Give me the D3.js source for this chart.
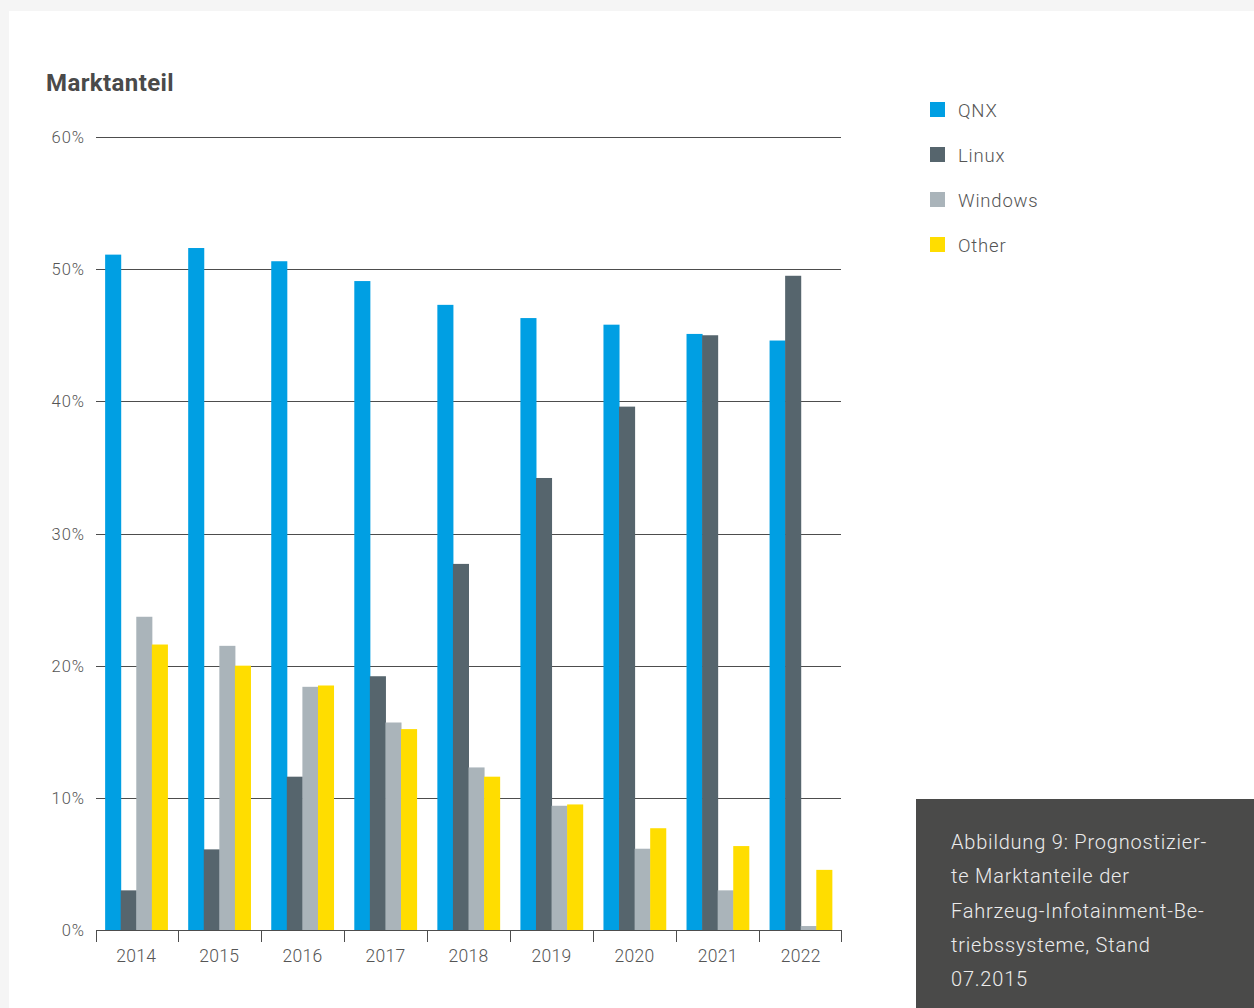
<!DOCTYPE html>
<html><head><meta charset="utf-8">
<script src="https://cdn.jsdelivr.net/npm/d3@7"></script>
<style>
html,body{margin:0;padding:0;background:#f5f5f5;}
svg{display:block;}
</style></head>
<body>
<svg id="chart" width="1254" height="1008"></svg>
<script>
const years = ["2014","2015","2016","2017","2018","2019","2020","2021","2022"];
const seriesNames = ["QNX","Linux","Windows","Other"];
const qnx     = [51.1, 51.6, 50.6, 49.1, 47.3, 46.3, 45.8, 45.1, 44.6];
const linux   = [3.0, 6.1, 11.6, 19.2, 27.7, 34.2, 39.6, 45.0, 49.5];
const windows = [23.7, 21.5, 18.4, 15.7, 12.3, 9.4, 6.15, 3.0, 0.3];
const other   = [21.6, 20.0, 18.5, 15.2, 11.6, 9.5, 7.7, 6.35, 4.55];
const yTicks  = [0, 10, 20, 30, 40, 50, 60];
const colors  = ["#009fe3", "#56656d", "#aab4ba", "#ffdd00"];
const titleText = "Marktanteil";
const captionLines = ["Abbildung 9: Prognostizier-", "te Marktanteile der", "Fahrzeug-Infotainment-Be-", "triebssysteme, Stand", "07.2015"];

(function () {
const seriesValues = [qnx, linux, windows, other];
const svg = d3.select("#chart");
const FONT = "Roboto, 'Liberation Sans', sans-serif";

// panel
svg.append("rect").attr("x", 9).attr("y", 11).attr("width", 1254 - 9).attr("height", 1008 - 11).attr("fill", "#ffffff");

const pLeft = 96, pRight = 841, pTop = 137, pBottom = 930;
const x = d3.scaleBand().domain(years).range([pLeft, pRight]).paddingInner(0.25).paddingOuter(0.11);
const xs = d3.scaleBand().domain(seriesNames).range([0, x.bandwidth()]).padding(0);
const y = d3.scaleLinear().domain([0, 60]).range([pBottom, pTop]);

// title
svg.append("text").attr("x", 46).attr("y", 91).text(titleText)
  .attr("font-family", FONT).attr("font-weight", 700).attr("font-size", 24)
  .attr("letter-spacing", 0.4).attr("fill", "#4a4a4a");

// gridlines
svg.append("g").selectAll("line").data(yTicks.filter(d => d > 0)).join("line")
  .attr("x1", pLeft).attr("x2", pRight)
  .attr("y1", d => Math.round(y(d)) + 0.5).attr("y2", d => Math.round(y(d)) + 0.5)
  .attr("stroke", "#4d4d4d").attr("stroke-width", 1);

// y labels
svg.append("g").selectAll("text").data(yTicks).join("text")
  .attr("x", 85).attr("y", d => y(d) + 6)
  .attr("text-anchor", "end").text(d => d + "%")
  .attr("font-family", FONT).attr("font-weight", 300).attr("font-size", 16.5)
  .attr("letter-spacing", 1).attr("fill", "#555");

// bars
const groups = svg.append("g").selectAll("g").data(years).join("g")
  .attr("transform", d => `translate(${x(d)},0)`);
groups.selectAll("rect").data((yr, i) => seriesNames.map((s, j) => ({s, j, v: seriesValues[j][i]})))
  .join("rect")
  .attr("x", d => xs(d.s)).attr("width", xs.bandwidth() + 0.5)
  .attr("y", d => y(d.v)).attr("height", d => y(0) - y(d.v))
  .attr("fill", d => colors[d.j]);

// x axis baseline and ticks
const axisG = svg.append("g");
axisG.append("line").attr("x1", pLeft).attr("x2", pRight).attr("y1", pBottom + 0.5).attr("y2", pBottom + 0.5)
  .attr("stroke", "#4d4d4d");
const boundaries = years.map((d, i) => i === 0 ? pLeft : (x(years[i - 1]) + x.bandwidth() + x(d)) / 2).concat([pRight]);
axisG.selectAll("line.tick").data(boundaries).join("line").attr("class", "tick")
  .attr("x1", d => Math.round(d) + 0.5).attr("x2", d => Math.round(d) + 0.5)
  .attr("y1", pBottom).attr("y2", pBottom + 12).attr("stroke", "#4d4d4d");
axisG.selectAll("text").data(years).join("text")
  .attr("x", d => x(d) + x.bandwidth() / 2).attr("y", 962)
  .attr("text-anchor", "middle").text(d => d)
  .attr("font-family", FONT).attr("font-weight", 300).attr("font-size", 17.5)
  .attr("letter-spacing", 0.3).attr("fill", "#555");

// legend
const legend = svg.append("g").selectAll("g").data(seriesNames).join("g")
  .attr("transform", (d, i) => `translate(930,${102 + i * 45})`);
legend.append("rect").attr("width", 15).attr("height", 15).attr("fill", (d, i) => colors[i]);
legend.append("text").attr("x", 28).attr("y", 14.5).text(d => d)
  .attr("font-family", FONT).attr("font-weight", 300).attr("font-size", 18.5)
  .attr("letter-spacing", 0.8).attr("fill", "#555");

// caption box
svg.append("rect").attr("x", 916).attr("y", 799).attr("width", 1254 - 916).attr("height", 1008 - 799).attr("fill", "#4a4a49");
svg.append("g").selectAll("text").data(captionLines).join("text")
  .attr("x", 951).attr("y", (d, i) => 849 + i * 34.3).text(d => d)
  .attr("font-family", FONT).attr("font-weight", 300).attr("font-size", 20)
  .attr("letter-spacing", 0.8).attr("fill", "#ececec");
})();
</script>
</body></html>
